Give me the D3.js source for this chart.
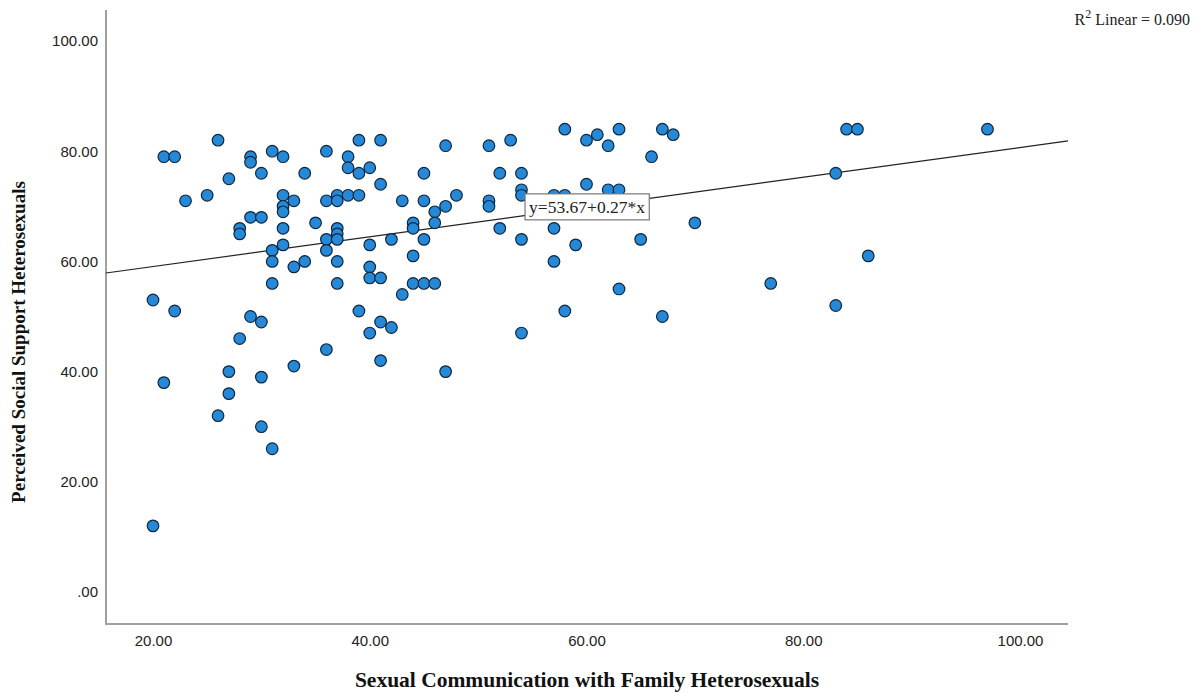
<!DOCTYPE html>
<html>
<head>
<meta charset="utf-8">
<script src="https://cdn.jsdelivr.net/npm/d3@7"></script>
<style>
  html, body { margin: 0; padding: 0; background: #fff; }
  svg { display: block; }
</style>
</head>
<body>
<svg id="chart" width="1200" height="693"></svg>
<script>
// ---- Data ----
const xValues = [20,20,21,21,22,22,23,25,26,26,27,27,27,28,28,28,29,29,29,29,30,30,30,30,30,
  31,31,31,31,31,32,32,32,32,32,32,33,33,33,34,34,35,36,36,36,36,36,37,37,37,37,37,37,37,
  38,38,38,39,39,39,39,40,40,40,40,40,41,41,41,41,41,42,42,43,43,44,44,44,44,45,45,45,45,
  46,46,46,47,47,47,48,51,51,51,52,52,53,54,54,54,54,54,57,57,57,58,58,58,59,60,60,61,62,62,
  63,63,63,65,66,67,67,68,70,77,83,83,84,85,86,97];
const yValues = [53,12,79,38,79,51,71,72,82,32,75,40,36,66,65,46,79,78,68,50,76,68,49,39,30,
  80,62,60,56,26,79,72,70,69,66,63,71,59,41,76,60,67,80,71,64,62,44,72,71,66,65,64,60,56,
  79,77,72,82,76,72,51,77,63,59,57,47,82,74,57,49,42,64,48,71,54,67,66,61,56,76,71,64,56,
  69,67,56,81,70,40,72,81,71,70,76,66,82,76,73,72,64,47,72,66,60,84,72,51,63,82,74,83,81,73,
  84,73,55,64,79,84,50,83,67,56,76,52,84,84,61,84];
const xTicks = [20, 40, 60, 80, 100];
const yTicks = [0, 20, 40, 60, 80, 100];
const fitIntercept = 53.67;
const fitSlope = 0.27;
const r2Value = "0.090";
const xTitle = "Sexual Communication with Family Heterosexuals";
const yTitle = "Perceived Social Support Heterosexuals";

// ---- Layout ----
const svg = d3.select("#chart");
const plotLeft = 106, plotRight = 1068, plotTop = 10, plotBottom = 624;

const x = d3.scaleLinear().domain([15.663, 104.43]).range([plotLeft, plotRight]);
const y = d3.scaleLinear().domain([-5.81, 105.63]).range([plotBottom, plotTop]);

const fmt = v => v === 0 ? ".00" : d3.format(".2f")(v);

// axes lines
svg.append("line").attr("x1", plotLeft).attr("x2", plotLeft).attr("y1", plotTop).attr("y2", plotBottom)
  .attr("stroke", "#a0a0a0").attr("stroke-width", 2);
svg.append("line").attr("x1", plotLeft - 1).attr("x2", plotRight).attr("y1", plotBottom).attr("y2", plotBottom)
  .attr("stroke", "#a0a0a0").attr("stroke-width", 2);

// Y axis labels
const yAxis = d3.axisLeft(y).tickValues(yTicks).tickFormat(fmt).tickSize(0).tickPadding(8);
const gy = svg.append("g").attr("transform", `translate(${plotLeft},0)`).call(yAxis);
gy.select(".domain").remove();
gy.selectAll("text").attr("font-family", "'Liberation Sans', Arial, sans-serif")
  .attr("font-size", "15px").attr("fill", "#222");

// X axis labels
const xAxis = d3.axisBottom(x).tickValues(xTicks).tickFormat(fmt).tickSize(0).tickPadding(11);
const gx = svg.append("g").attr("transform", `translate(0,${plotBottom})`).call(xAxis);
gx.select(".domain").remove();
gx.selectAll("text").attr("font-family", "'Liberation Sans', Arial, sans-serif")
  .attr("font-size", "15px").attr("fill", "#222");

// regression line
const xd = x.domain();
svg.append("line")
  .attr("x1", x(xd[0])).attr("y1", y(fitIntercept + fitSlope * xd[0]))
  .attr("x2", x(xd[1])).attr("y2", y(fitIntercept + fitSlope * xd[1]))
  .attr("stroke", "#222").attr("stroke-width", 1.2);

// points
const pts = xValues.map((v, i) => ({ x: v, y: yValues[i] }));
svg.append("g").selectAll("circle").data(pts).join("circle")
  .attr("cx", d => x(d.x)).attr("cy", d => y(d.y)).attr("r", 5.8)
  .attr("fill", "#2589d8").attr("stroke", "#0e2740").attr("stroke-width", 1.2);

// equation label box
const eqX = 60.05, eqY = 69.9;
const eqG = svg.append("g").attr("transform", `translate(${x(eqX)},${y(eqY)})`);
const eqText = eqG.append("text").attr("text-anchor", "middle").attr("dy", "0.35em")
  .attr("font-family", "'Liberation Serif', 'Times New Roman', serif").attr("font-size", "17.5px")
  .attr("fill", "#222").text(`y=${fitIntercept.toFixed(2)}+${fitSlope.toFixed(2)}*x`);
const bb = eqText.node().getBBox();
eqG.insert("rect", "text").attr("x", bb.x - 4).attr("y", -13).attr("width", bb.width + 8).attr("height", 26)
  .attr("fill", "#fff").attr("stroke", "#777").attr("stroke-width", 1.2);

// R^2 label
const r2 = svg.append("text").attr("x", 1190).attr("y", 25).attr("text-anchor", "end")
  .attr("font-family", "'Liberation Serif', 'Times New Roman', serif").attr("font-size", "16px").attr("fill", "#222");
r2.append("tspan").text("R");
r2.append("tspan").attr("dy", -7).attr("font-size", "12px").text("2");
r2.append("tspan").attr("dy", 7).text(` Linear = ${r2Value}`);

// axis titles
svg.append("text").attr("x", 587).attr("y", 687).attr("text-anchor", "middle")
  .attr("font-family", "'Liberation Serif', 'Times New Roman', serif").attr("font-weight", "bold")
  .attr("font-size", "21.5px").attr("fill", "#111").text(xTitle);
svg.append("text").attr("transform", "translate(25,342) rotate(-90)").attr("text-anchor", "middle")
  .attr("font-family", "'Liberation Serif', 'Times New Roman', serif").attr("font-weight", "bold")
  .attr("font-size", "19px").attr("fill", "#111").text(yTitle);
</script>
</body>
</html>
